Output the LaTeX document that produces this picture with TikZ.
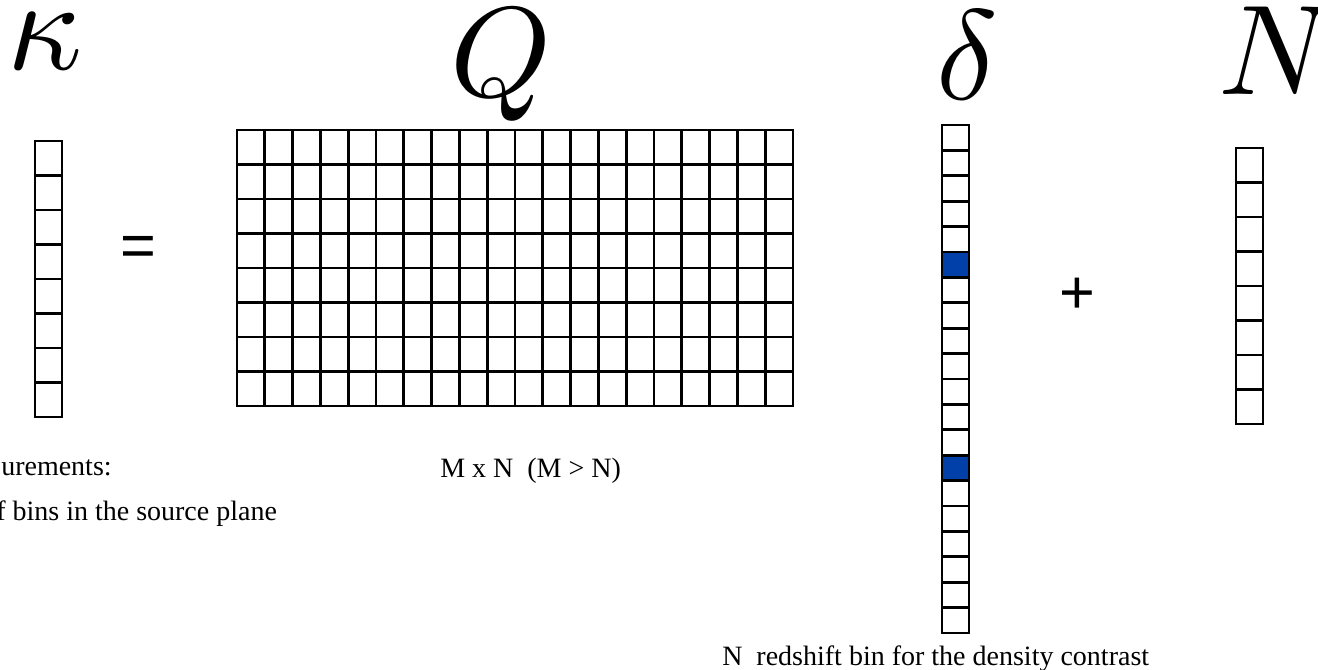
\documentclass[tikz,border=0pt]{standalone}
\usepackage{amsmath,amssymb}
\usepackage{fontspec}
\setmainfont{Liberation Serif}
\newfontfamily\arialfont{Liberation Sans}
\usepackage{tikz}
\usetikzlibrary{positioning}
\definecolor{cellblue}{RGB}{0,64,168}
\newcommand{\bigsym}[1]{\scalebox{9.6}{$#1$}}

\begin{document}
\begin{tikzpicture}[
    x=0.75pt, y=-0.75pt,
    cell/.style={draw=black, line width=2.2pt},
    hit/.style={cell, fill=cellblue},
    sym/.style={inner sep=0pt, anchor=base},
    op/.style={inner sep=0pt, font=\arialfont\fontsize{46}{46}\selectfont},
    note/.style={inner sep=0pt, anchor=base west, font=\fontsize{21}{25}\selectfont},
]
\useasboundingbox (0,0) rectangle (1318,670);

% Symbols
\node[sym] (kappa) at (45,70) {\scalebox{9.8}{$\kappa$}};
\node[sym] (qsym) at (501,97) {\bigsym{Q}};
\node[sym] (delta) at (967,100) {\bigsym{\delta}};
\node[sym] (nsym) at (1277,95) {\bigsym{N}};

% Kappa vector
\foreach \i in {0,...,7}
  \draw[cell] (35,{141+34.5*\i}) rectangle ++(27,34.5);

% Q matrix
\foreach \r in {0,...,7}
  \foreach \c in {0,...,19}
    \draw[cell] ({237+27.8*\c},{130+34.5*\r}) rectangle ++(27.8,34.5);

% Delta vector
\foreach \i in {0,...,19}
  \draw[cell] (942,{125+25.4*\i}) rectangle ++(27,25.4);
\foreach \i in {5,13}
  \draw[hit] (942,{125+25.4*\i}) rectangle ++(27,25.4);

% Noise vector
\foreach \i in {0,...,7}
  \draw[cell] (1236,{148+34.5*\i}) rectangle ++(27,34.5);

% Operators
\node[op] (eq) at (138,251) {=};
\node[op] (plus) at (1077,296) {+};

% Notes
\node[note] (meas) at (1,475) {urements:};
\node[note] (bins) at (-4,520) {f bins in the source plane};
\node[note] (size) at (440,477) {M x N\ \ (M > N)};
\node[note] (zbin) at (722,665) {N\ \ redshift bin for the density contrast};
\end{tikzpicture}
\end{document}
